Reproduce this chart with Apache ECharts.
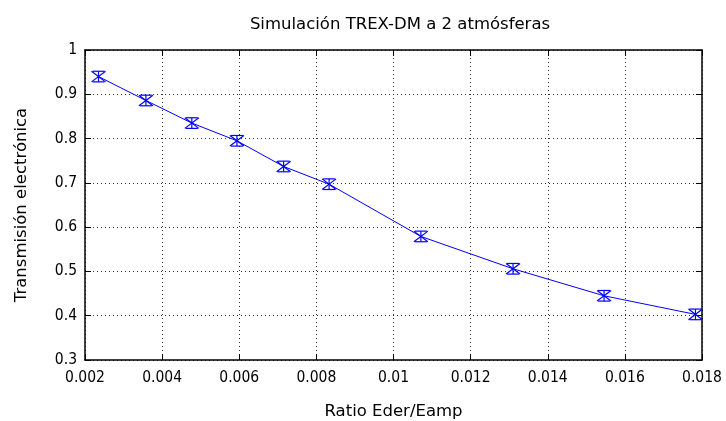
<!DOCTYPE html>
<html>
<head>
<meta charset="utf-8">
<script src="https://cdn.jsdelivr.net/npm/echarts@6/dist/echarts.min.js"></script>
<style>
  html, body { margin: 0; padding: 0; background: #fff; }
  #chart { width: 726px; height: 421px; }
</style>
</head>
<body>
<div id="chart"></div>
<script>
// Electron transmission vs. field ratio, TREX-DM at 2 atm
const ratio = [0.00235, 0.00358, 0.00477, 0.00594, 0.00715, 0.00833, 0.01071, 0.01310, 0.01546, 0.01783];
const transmission = [0.940, 0.886, 0.835, 0.795, 0.737, 0.697, 0.579, 0.506, 0.445, 0.403];
const errors = [0.012, 0.012, 0.012, 0.012, 0.012, 0.012, 0.012, 0.012, 0.012, 0.012];
const xTicks = ['0.002', '0.004', '0.006', '0.008', '0.01', '0.012', '0.014', '0.016', '0.018'];
const yTicks = ['0.3', '0.4', '0.5', '0.6', '0.7', '0.8', '0.9', '1'];

const TICK_FONT = 'DejaVu Sans Condensed, DejaVu Sans';
const LABEL_FONT = 'DejaVu Sans';
const BLUE = '#0000ff';

const points = ratio.map((x, i) => [x, transmission[i], errors[i]]);

const chart = echarts.init(document.getElementById('chart'), null, { renderer: 'canvas' });

const baseX = {
  type: 'value', min: 0.002, max: 0.018, interval: 0.002,
  axisLine: { show: true, lineStyle: { color: '#000', width: 1.5 } },
  axisTick: { show: true, inside: true, length: 6, lineStyle: { color: '#000', width: 1 } },
};
const baseY = {
  type: 'value', min: 0.3, max: 1, interval: 0.1,
  axisLine: { show: true, lineStyle: { color: '#000', width: 1.5 } },
  axisTick: { show: true, inside: true, length: 6, lineStyle: { color: '#000', width: 1 } },
};

chart.setOption({
  animation: false,
  backgroundColor: '#fff',
  title: {
    text: 'Simulación TREX-DM a 2 atmósferas',
    left: 395, top: 11, textAlign: 'center',
    textStyle: { fontFamily: LABEL_FONT, fontSize: 16.5, fontWeight: 'normal', color: '#000' }
  },
  grid: { left: 85, right: 24, top: 50, bottom: 61, containLabel: false, outerBoundsMode: 'none' },
  xAxis: [
    Object.assign({}, baseX, {
      position: 'bottom',
      name: 'Ratio Eder/Eamp', nameLocation: 'middle', nameGap: 43,
      nameTextStyle: { fontFamily: LABEL_FONT, fontSize: 16.5, color: '#000' },
      axisLabel: {
        margin: 10, fontFamily: TICK_FONT, fontSize: 15.5, color: '#000',
        formatter: (v) => xTicks[Math.round((v - 0.002) / 0.002)]
      },
      splitLine: { show: true, lineStyle: { type: [1, 3], color: '#333', width: 1 } }
    }),
    Object.assign({}, baseX, {
      position: 'top', axisLabel: { show: false }, splitLine: { show: false }
    })
  ],
  yAxis: [
    Object.assign({}, baseY, {
      position: 'left',
      name: 'Transmisión electrónica', nameLocation: 'middle', nameGap: 55,
      nameTextStyle: { fontFamily: LABEL_FONT, fontSize: 16.5, color: '#000' },
      axisLabel: {
        margin: 8, fontFamily: TICK_FONT, fontSize: 15.5, color: '#000',
        formatter: (v) => yTicks[Math.round((v - 0.3) / 0.1)]
      },
      splitLine: { show: true, lineStyle: { type: [1, 3], color: '#333', width: 1 } }
    }),
    Object.assign({}, baseY, {
      position: 'right', axisLabel: { show: false }, splitLine: { show: false }
    })
  ],
  series: [
    {
      type: 'line',
      data: points.map(p => [p[0], p[1]]),
      showSymbol: false,
      lineStyle: { color: BLUE, width: 1 },
      z: 3
    },
    {
      type: 'custom',
      data: points,
      z: 4,
      renderItem: (params, api) => {
        const x = api.value(0), y = api.value(1), e = api.value(2);
        const c = api.coord([x, y]);
        const top = api.coord([x, y + e]);
        const bot = api.coord([x, y - e]);
        const cap = 6;
        const mx = 7, my = top[1] - c[1];
        const style = { stroke: BLUE, lineWidth: 1.2, fill: null };
        return {
          type: 'group',
          children: [
            { type: 'line', shape: { x1: c[0], y1: top[1], x2: c[0], y2: bot[1] }, style },
            { type: 'line', shape: { x1: c[0] - cap, y1: top[1], x2: c[0] + cap, y2: top[1] }, style },
            { type: 'line', shape: { x1: c[0] - cap, y1: bot[1], x2: c[0] + cap, y2: bot[1] }, style },
            { type: 'line', shape: { x1: c[0] - mx, y1: c[1] + my, x2: c[0] + mx, y2: c[1] - my }, style },
            { type: 'line', shape: { x1: c[0] - mx, y1: c[1] - my, x2: c[0] + mx, y2: c[1] + my }, style }
          ]
        };
      }
    }
  ]
});
</script>
</body>
</html>
